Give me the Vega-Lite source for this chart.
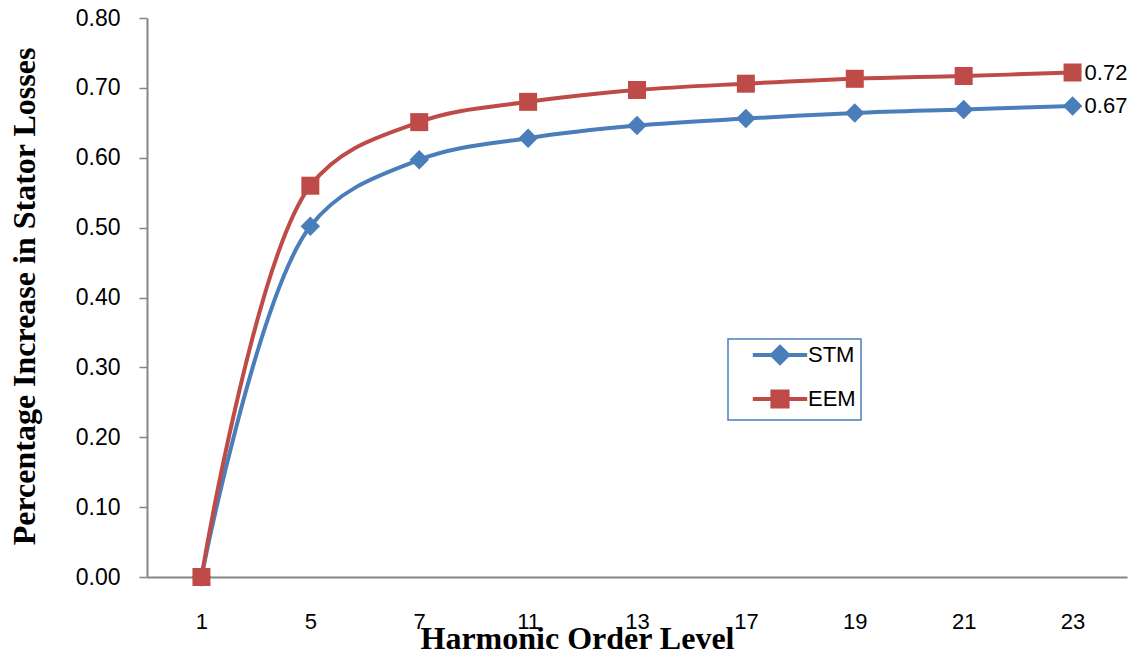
{
  "$schema": "https://vega.github.io/schema/vega-lite/v6.json",
  "width": 980,
  "height": 559,
  "autosize": {"type": "none"},
  "padding": {"left": 147, "top": 18, "right": 17, "bottom": 80},
  "background": "white",
  "config": {"view": {"stroke": null}},
  "data": {
    "values": [
      {"h": "1", "s": "STM", "v": 0.0},
      {"h": "5", "s": "STM", "v": 0.502},
      {"h": "7", "s": "STM", "v": 0.597},
      {"h": "11", "s": "STM", "v": 0.628},
      {"h": "13", "s": "STM", "v": 0.646},
      {"h": "17", "s": "STM", "v": 0.656},
      {"h": "19", "s": "STM", "v": 0.664},
      {"h": "21", "s": "STM", "v": 0.669},
      {"h": "23", "s": "STM", "v": 0.674},
      {"h": "1", "s": "EEM", "v": 0.0},
      {"h": "5", "s": "EEM", "v": 0.560},
      {"h": "7", "s": "EEM", "v": 0.651},
      {"h": "11", "s": "EEM", "v": 0.680},
      {"h": "13", "s": "EEM", "v": 0.697},
      {"h": "17", "s": "EEM", "v": 0.706},
      {"h": "19", "s": "EEM", "v": 0.713},
      {"h": "21", "s": "EEM", "v": 0.717},
      {"h": "23", "s": "EEM", "v": 0.722}
    ]
  },
  "encoding": {
    "x": {
      "field": "h", "type": "ordinal",
      "sort": ["1", "5", "7", "11", "13", "17", "19", "21", "23"],
      "scale": {"type": "point", "padding": 0.5},
      "axis": {
        "title": "Harmonic Order Level",
        "titleFont": "Liberation Serif", "titleFontSize": 32, "titleFontWeight": "bold", "titleColor": "#000000",
        "titleX": 430, "titleY": 71, "titleBaseline": "alphabetic", "titleAlign": "center",
        "labelAngle": 0, "labelFont": "Liberation Sans", "labelFontSize": 22, "labelColor": "#000000",
        "labelPadding": 34, "ticks": false, "grid": false,
        "domainColor": "#868686", "domainWidth": 2
      }
    },
    "y": {
      "field": "v", "type": "quantitative",
      "scale": {"domain": [0, 0.8], "nice": false, "zero": true},
      "axis": {
        "title": "Percentage Increase in Stator Losses",
        "titleFont": "Liberation Serif", "titleFontSize": 32, "titleFontWeight": "bold", "titleColor": "#000000",
        "titleX": -113, "titleY": 278, "titleBaseline": "alphabetic", "titleAlign": "center", "titleAngle": 270,
        "values": [0, 0.1, 0.2, 0.3, 0.4, 0.5, 0.6, 0.7, 0.8],
        "format": ".2f",
        "labelFont": "Liberation Sans", "labelFontSize": 23, "labelColor": "#000000", "labelPadding": 19,
        "tickSize": 8, "tickColor": "#868686", "tickWidth": 1.5,
        "grid": false, "domainColor": "#868686", "domainWidth": 2
      }
    },
    "color": {
      "field": "s", "type": "nominal",
      "scale": {"domain": ["STM", "EEM"], "range": ["#4A7EBB", "#BE4B48"]},
      "legend": {
        "orient": "none", "legendX": 581, "legendY": 321,
        "title": null,
        "strokeColor": "#4A7EBB", "fillColor": "white",
        "padding": 5,
        "symbolType": "circle",
        "symbolSize": 256, "symbolOffset": 36, "symbolStrokeWidth": 4,
        "labelOffset": 17,
        "labelFont": "Liberation Sans", "labelFontSize": 22, "labelColor": "#000000",
        "rowPadding": 12,
        "encode": {
          "legend": {"update": {"strokeWidth": {"value": 1.5}}},
          "labels": {"update": {"text": {"signal": "datum.label + '\u2003\u2003'"}}},
          "symbols": {
            "update": {
              "shape": {"signal": "datum.value === 'STM' ? 'M-3.4,0H3.4M0,-1L1,0L0,1L-1,0Z' : 'M-3.4,0H3.4M-0.95,-0.95H0.95V0.95H-0.95Z'"},
              "strokeWidth": {"value": 4},
              "opacity": {"value": 1}
            }
          }
        }
      }
    }
  },
  "layer": [
    {
      "mark": {"type": "line", "interpolate": "catmull-rom", "strokeWidth": 4}
    },
    {
      "transform": [{"filter": "datum.s === 'STM'"}],
      "mark": {"type": "point", "filled": true, "opacity": 1, "shape": "diamond", "size": 380}
    },
    {
      "transform": [{"filter": "datum.s === 'EEM'"}],
      "mark": {"type": "point", "filled": true, "opacity": 1, "shape": "square", "size": 324}
    },
    {
      "transform": [{"filter": "datum.h === '23'"}],
      "mark": {"type": "text", "align": "left", "baseline": "middle", "dx": 12, "font": "Liberation Sans", "fontSize": 22},
      "encoding": {
        "text": {"field": "v", "type": "quantitative", "format": ".2f"},
        "color": {"value": "#000000"}
      }
    }
  ]
}
